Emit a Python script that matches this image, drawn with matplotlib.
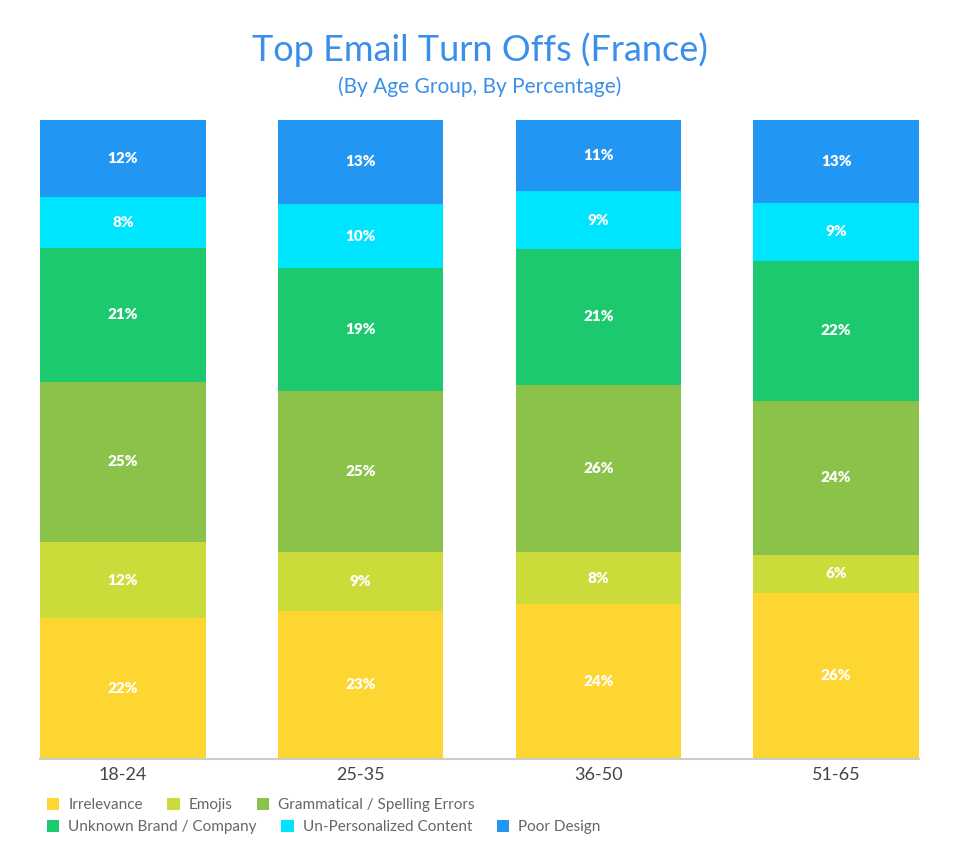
import matplotlib.pyplot as plt
import numpy as np

plt.rcParams['font.family'] = ['Lato', 'DejaVu Sans']

# --- Data ---
age_groups = ['18-24', '25-35', '36-50', '51-65']
categories = ['Irrelevance', 'Emojis', 'Grammatical / Spelling Errors',
              'Unknown Brand / Company', 'Un-Personalized Content', 'Poor Design']
irrelevance = [22, 23, 24, 26]
emojis = [12, 9, 8, 6]
grammar = [25, 25, 26, 24]
unknown_brand = [21, 19, 21, 22]
unpersonalized = [8, 10, 9, 9]
poor_design = [12, 13, 11, 13]

colors = ['#FDD631', '#CBDC3A', '#8BC34A', '#1DC96E', '#00E5FF', '#2196F3']

series = np.array([irrelevance, emojis, grammar, unknown_brand, unpersonalized, poor_design], dtype=float)
# bars are drawn full height, so scale each column to 100
shares = series / series.sum(axis=0) * 100

fig = plt.figure(figsize=(9.6, 8.64), dpi=100)
ax = fig.add_axes([40 / 960, 105 / 864, 879 / 960, 639 / 864])

x = np.arange(len(age_groups))
width = 0.697
bottom = np.zeros(len(age_groups))
handles = []
for i, name in enumerate(categories):
    bars = ax.bar(x, shares[i], width, bottom=bottom, color=colors[i], label=name, linewidth=0)
    handles.append(bars)
    for j in range(len(age_groups)):
        ax.text(x[j], bottom[j] + shares[i][j] / 2, f'{int(series[i][j])}%',
                ha='center', va='center', color='white', fontsize=11, fontweight='heavy')
    bottom += shares[i]

ax.set_xlim(-width / 2, len(age_groups) - 1 + width / 2)
ax.set_ylim(0, 100)
ax.set_xticks(x)
ax.set_xticklabels(age_groups, fontsize=13, color='#444444')
ax.tick_params(axis='x', length=0, pad=6)
ax.set_yticks([])
for side in ['top', 'right', 'left']:
    ax.spines[side].set_visible(False)
ax.spines['bottom'].set_color('#CCCCCC')
ax.spines['bottom'].set_linewidth(1.5)

# title and subtitle
fig.text(0.5, 1 - 50 / 864, 'Top Email Turn Offs (France)', ha='center', va='center',
         fontsize=26, color='#3A8FEA')
fig.text(0.5, 1 - 87 / 864, '(By Age Group, By Percentage)', ha='center', va='center',
         fontsize=15, color='#3A8FEA')

# legend: two rows with flowing entries
rows = [[0, 1, 2], [3, 4, 5]]
row_y = [1 - 798 / 864, 1 - 820 / 864]
for r, idx in enumerate(rows):
    leg = fig.legend([handles[k] for k in idx], [categories[k] for k in idx],
                     loc='upper left', bbox_to_anchor=(47 / 960, row_y[r]), ncol=3,
                     frameon=False, fontsize=11, handlelength=0.8, handleheight=0.8,
                     handletextpad=0.6, columnspacing=1.6, borderaxespad=0, borderpad=0)
    for t in leg.get_texts():
        t.set_color('#666666')

fig.savefig('out.png', dpi=100)
